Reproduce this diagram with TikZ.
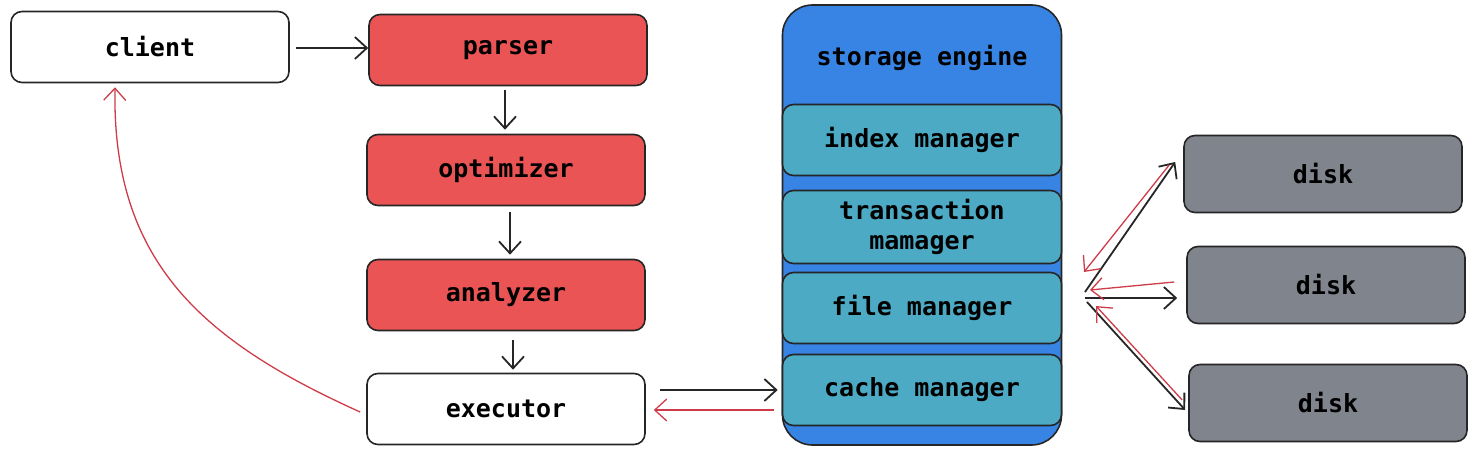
\documentclass[tikz,border=0pt]{standalone}
\usepackage{fontspec}
\setmonofont{DejaVu Sans Mono}
\usetikzlibrary{arrows.meta}

\definecolor{stagered}{RGB}{234,84,84}
\definecolor{engineblue}{RGB}{56,132,228}
\definecolor{managerteal}{RGB}{76,170,196}
\definecolor{diskgray}{RGB}{128,132,140}
\definecolor{backred}{RGB}{205,60,72}

\begin{document}
\begin{tikzpicture}[x=1pt,y=-1pt,>={Straight Barb[length=12pt,width=22pt]},
  box/.style={draw=black!85,line width=1.6pt,rounded corners=11pt,minimum width=278pt,
    minimum height=71pt,font=\ttfamily\bfseries\fontsize{25}{30}\selectfont,align=center},
  stage/.style={box,fill=stagered},
  manager/.style={box,fill=managerteal},
  disk node/.style={box,fill=diskgray,minimum height=77pt},
  go/.style={->,line width=1.8pt,black!85},
  back/.style={->,line width=1.3pt,backred}]

  \useasboundingbox (0,0) rectangle (1472,452);

  % query path
  \node[box] (client) at (150,47) {client};
  \node[stage] (parser) at (508,50) {parser};
  \node[stage] (optimizer) at (506,170) {optimizer};
  \node[stage] (analyzer) at (506,295) {analyzer};
  \node[box] (executor) at (506,409) {executor};

  % storage engine
  \node[box,fill=engineblue,minimum width=279pt,minimum height=440pt,rounded corners=30pt] (engine) at (922,225) {};
  \node[font=\ttfamily\bfseries\fontsize{25}{30}\selectfont] (enginetitle) at (922,58) {storage engine};
  \node[manager,minimum width=279pt] (index) at (922,140) {index manager};
  \node[manager,minimum width=279pt,minimum height=73pt] (transaction) at (922,227) {transaction\\mamager};
  \node[manager,minimum width=279pt] (file) at (922,308) {file manager};
  \node[manager,minimum width=279pt] (cache) at (922,390) {cache manager};

  % disks
  \node[disk node] (diska) at (1323,174) {disk};
  \node[disk node] (diskb) at (1326,285) {disk};
  \node[disk node] (diskc) at (1328,403) {disk};

  \coordinate (fileout) at (1085,292);
  \coordinate (filein) at (1090,288);

  \draw[go] (client.east) ++(6,1) -- (parser.west |- 0,48);
  \draw[go] (parser.south) ++(-3,4) -- ([xshift=-1,yshift=4]optimizer.north);
  \draw[go] (optimizer) ++(4,42) -- ([xshift=4,yshift=4]analyzer.north);
  \draw[go] (analyzer) ++(7,45) -- ([xshift=7,yshift=3]executor.north);
  \draw[go] ([xshift=14,yshift=19]executor.east) -- ([xshift=-4,yshift=0]cache.west);
  \draw[back] ([xshift=-8,yshift=-20]cache.west) -- ([xshift=8,yshift=-1]executor.east);
  \draw[back] ([xshift=-6,yshift=-3]executor.west) .. controls (200,340) and (112,260) .. ([xshift=-35,yshift=-4]client.south);

  \draw[go] (fileout) -- ([xshift=-8,yshift=12]diska.west);
  \draw[go] (fileout) ++(0,6) -- ([xshift=-9,yshift=-13]diskb.west);
  \draw[go] (fileout) ++(2,10) -- ([xshift=-3,yshift=-7]diskc.west);
  \draw[back] ([xshift=-14,yshift=9]diska.west) -- ([xshift=-6,yshift=16]filein);
  \draw[back] ([xshift=-12,yshift=3]diskb.west) -- ([yshift=-2]filein);
  \draw[back] ([xshift=-6,yshift=3]diskc.west) -- ([xshift=6,yshift=-18]filein);
\end{tikzpicture}
\end{document}
